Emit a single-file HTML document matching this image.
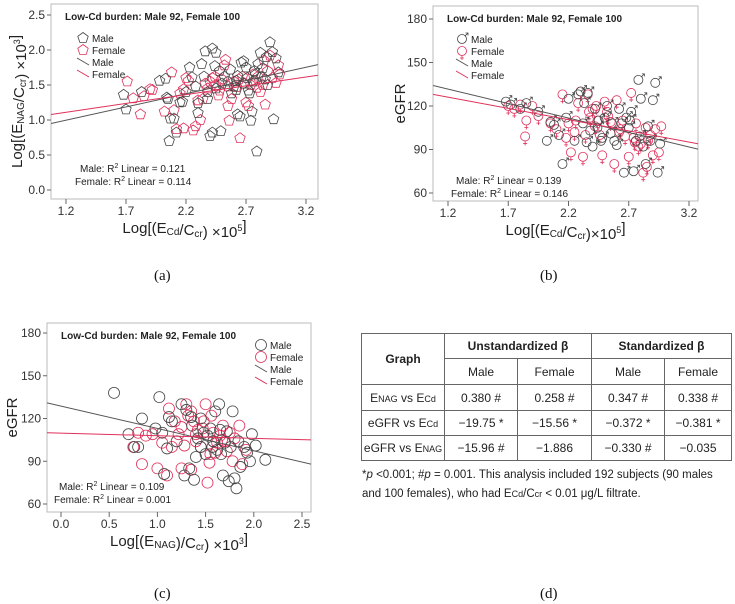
<!DOCTYPE html>
<html><head><meta charset="utf-8">
<style>
body{margin:0;background:#fff;width:735px;height:604px;overflow:hidden;font-family:"Liberation Sans",sans-serif;}
svg{position:absolute;left:0;top:0}
table{position:absolute;left:361px;top:333px;border-collapse:collapse;font-family:"Liberation Sans",sans-serif;font-size:12px;color:#222}
td,th{border:1px solid #666;text-align:center;padding:0;height:24px}
th{font-weight:bold}
.sub{font-size:9px}
#note{position:absolute;left:362px;top:466px;font-size:11.5px;line-height:19px;color:#222;width:372px}
.cap{position:absolute;font-family:"Liberation Serif",serif;font-size:15px;color:#111}
</style></head><body>
<svg id="fig" width="735" height="604"></svg>
<table>
<tr><th rowspan="2" style="width:82px">Graph</th><th colspan="2" style="height:22px">Unstandardized β</th><th colspan="2">Standardized β</th></tr>
<tr><td style="width:72px;height:25px">Male</td><td style="width:73px">Female</td><td style="width:72px">Male</td><td style="width:66px">Female</td></tr>
<tr style="height:26px"><td>E<span class="sub">NAG</span> vs E<span class="sub">Cd</span></td><td>0.380 #</td><td>0.258 #</td><td>0.347 #</td><td>0.338 #</td></tr>
<tr><td>eGFR vs E<span class="sub">Cd</span></td><td>−19.75 *</td><td>−15.56 *</td><td>−0.372 *</td><td>−0.381 *</td></tr>
<tr><td>eGFR vs E<span class="sub">NAG</span></td><td>−15.96 #</td><td>−1.886</td><td>−0.330 #</td><td>−0.035</td></tr>
</table>
<div id="note">*<i>p</i> &lt;0.001; #<i>p</i> = 0.001. This analysis included 192 subjects (90 males and 100 females), who had E<span class="sub">Cd</span>/C<span class="sub">cr</span> &lt; 0.01 μg/L filtrate.</div>
<div class="cap" style="left:154px;top:268px">(a)</div>
<div class="cap" style="left:540px;top:268px">(b)</div>
<div class="cap" style="left:154px;top:586px">(c)</div>
<div class="cap" style="left:540px;top:586px">(d)</div>
<script>
// Panel a data
const aMaleX=[1.68,1.70,1.83,1.98,2.03,2.04,2.05,2.07,2.10,2.12,2.06,2.15,2.17,2.23,2.25,2.30,2.30,2.33,2.36,2.38,2.40,2.42,2.42,2.45,2.44,2.48,2.49,2.50,2.55,2.58,2.60,2.62,2.63,2.63,2.65,2.66,2.68,2.70,2.72,2.73,2.74,2.75,2.76,2.78,2.79,2.80,2.82,2.84,2.86,2.88,2.90,2.92,2.93,2.95,2.97,2.57,2.35,2.28,2.45,2.52,2.68,2.71,2.77,2.83,2.87,2.62,2.38,2.20];
const aMaleY=[1.36,1.15,1.40,1.56,1.59,1.32,1.30,1.02,1.02,0.82,0.70,1.25,1.26,1.75,1.61,1.10,1.24,1.80,1.98,1.40,0.77,0.82,2.02,1.96,1.77,1.70,0.84,1.52,1.55,1.38,1.48,1.56,1.63,1.08,1.05,1.82,1.84,1.75,1.42,1.38,0.99,1.12,1.55,1.65,0.55,1.80,1.96,1.74,1.58,1.50,2.11,1.97,1.01,1.88,1.68,1.72,1.62,1.48,1.45,1.62,1.52,1.60,1.70,1.62,1.90,1.43,1.30,1.40];
const aFemX=[1.71,1.76,1.82,1.85,1.90,1.92,2.02,2.08,2.10,2.12,2.18,2.18,2.20,2.22,2.26,2.28,2.32,2.34,2.38,2.40,2.42,2.45,2.47,2.50,2.52,2.53,2.55,2.56,2.58,2.60,2.62,2.65,2.67,2.70,2.72,2.74,2.76,2.78,2.80,2.82,2.84,2.86,2.88,2.90,2.92,2.95,2.97,2.98,2.44,2.36,2.48,2.64,2.69,2.79,2.85,2.30,2.15,2.55];
const aFemY=[1.55,1.31,1.08,1.34,1.44,1.43,1.12,1.68,1.14,0.87,0.88,1.44,1.60,1.56,0.85,0.91,1.00,1.30,1.45,1.55,1.60,1.50,1.35,1.58,1.78,1.86,1.20,0.99,1.30,1.55,1.47,0.74,1.62,1.25,1.20,1.50,1.65,1.55,1.62,1.40,1.50,1.22,1.70,1.92,1.60,1.53,1.78,1.65,1.62,1.52,1.42,1.58,1.52,1.46,1.85,1.28,1.38,1.48];
const aXTicks=[1.2,1.7,2.2,2.7,3.2];
const aYTicks=[0.0,0.5,1.0,1.5,2.0,2.5];
const aFit={maleB0:0.544,maleB1:0.378,femB0:0.808,femB1:0.252};
// Panel b data
const bMaleX=[1.68,1.72,1.80,1.85,1.95,2.02,2.05,2.08,2.12,2.15,2.18,2.20,2.25,2.28,2.30,2.32,2.35,2.38,2.40,2.42,2.45,2.47,2.50,2.52,2.55,2.58,2.60,2.62,2.64,2.66,2.68,2.70,2.72,2.74,2.76,2.78,2.80,2.82,2.84,2.86,2.88,2.90,2.92,2.94,2.96,2.36,2.44,2.56,2.71,2.79,2.33,2.48];
const bMaleY=[123,121,118,122,116,96,109,107,100,80,112,125,96,128,130,108,95,103,92,118,110,96,112,120,101,96,93,118,108,74,112,105,116,75,96,138,125,92,80,106,96,124,136,74,94,129,105,108,110,99,122,98];
const bFemX=[1.70,1.75,1.80,1.84,1.85,1.90,1.95,2.05,2.10,2.15,2.18,2.20,2.22,2.25,2.28,2.30,2.32,2.34,2.36,2.38,2.40,2.42,2.44,2.46,2.48,2.50,2.52,2.55,2.58,2.60,2.62,2.65,2.67,2.70,2.72,2.74,2.76,2.78,2.80,2.82,2.84,2.86,2.88,2.90,2.92,2.95,2.97,2.43,2.53,2.63,2.75,2.85,2.26,2.37];
const bFemY=[120,118,121,99,110,120,113,108,104,128,98,108,88,102,122,130,85,100,128,112,118,106,110,100,86,123,116,109,80,124,102,110,99,85,129,98,108,92,94,74,105,96,100,86,104,88,106,120,113,104,95,78,110,116];
const bXTicks=[1.2,1.7,2.2,2.7,3.2];
const bYTicks=[60,90,120,150,180];
const bFit={maleB0:155.7,maleB1:-20.0,femB0:144.7,femB1:-15.5};
// Panel c data
const cMaleX=[0.55,0.70,0.76,0.80,0.84,0.98,1.02,1.05,1.07,1.10,1.12,1.15,1.20,1.25,1.28,1.30,1.33,1.35,1.38,1.40,1.42,1.45,1.48,1.50,1.52,1.55,1.57,1.60,1.62,1.64,1.66,1.68,1.70,1.72,1.74,1.76,1.78,1.80,1.82,1.84,1.86,1.90,1.93,1.96,1.98,2.02,2.12,1.58,1.65,1.36,1.45];
const cMaleY=[138,109,100,100,120,113,135,110,81,99,121,118,104,130,80,126,85,121,77,93,106,120,110,95,108,113,100,125,98,130,95,80,103,111,76,100,125,78,71,104,86,100,96,90,109,101,91,104,112,115,100];
const cFemX=[0.75,0.80,0.84,0.88,0.95,1.00,1.05,1.10,1.12,1.15,1.18,1.22,1.25,1.28,1.30,1.32,1.35,1.38,1.40,1.42,1.45,1.48,1.50,1.52,1.54,1.56,1.58,1.60,1.62,1.65,1.68,1.70,1.72,1.75,1.78,1.80,1.85,1.88,1.92,1.25,1.40,1.55,1.67,1.35,1.47,1.58];
const cFemY=[100,110,88,108,109,85,103,80,127,100,118,109,85,101,130,122,84,118,104,112,100,118,130,75,89,122,110,96,103,108,115,104,97,110,90,106,115,88,98,114,109,95,105,125,113,104];
const cXTicks=[0.0,0.5,1.0,1.5,2.0,2.5];
const cYTicks=[60,90,120,150,180];
const cFit={maleB0:128.7,maleB1:-15.7,femB0:109.7,femB1:-1.8};

const NS='http://www.w3.org/2000/svg';
const svg=document.getElementById('fig');
function mk(tag,attrs,parent){const e=document.createElementNS(NS,tag);for(const k in attrs)e.setAttribute(k,attrs[k]);(parent||svg).appendChild(e);return e;}
function txt(x,y,s,size,parent,extra){const t=mk('text',Object.assign({x:x,y:y,'font-size':size,fill:'#222','font-family':'Liberation Sans, sans-serif'},extra||{}),parent);t.innerHTML=s;return t;}
const MC='#444',FC='#e0305a';
function marker(g,kind,cx,cy,col){
  let e;
  if(kind==='pent'){let p=[];for(let i=0;i<5;i++){const a=-Math.PI/2+i*2*Math.PI/5;p.push((cx+5.5*Math.cos(a)).toFixed(1)+','+(cy+5.5*Math.sin(a)).toFixed(1));}
    e=mk('polygon',{points:p.join(' '),fill:'none',stroke:col,'stroke-width':0.8},g);}
  else if(kind==='male'){e=mk('g',{},g);mk('circle',{cx:cx,cy:cy,r:4.5,fill:'none',stroke:col,'stroke-width':0.8},e);mk('path',{d:`M${cx+3.2} ${cy-3.2}L${cx+6} ${cy-6}M${cx+3.5} ${cy-6}H${cx+6}V${cy-3.5}`,fill:'none',stroke:col,'stroke-width':0.8},e);}
  else if(kind==='female'){e=mk('g',{},g);mk('circle',{cx:cx,cy:cy,r:4.5,fill:'none',stroke:col,'stroke-width':0.8},e);mk('path',{d:`M${cx} ${cy+4.5}V${cy+9}M${cx-2} ${cy+7}H${cx+2}`,fill:'none',stroke:col,'stroke-width':0.8},e);}
  else {e=mk('circle',{cx:cx,cy:cy,r:5.5,fill:'none',stroke:col,'stroke-width':0.8},g);}
  return e;
}
function panel(p){
  const g=mk('g',{});
  
  
  const sx=v=>p.x0+(v-p.xv0)*p.kx, sy=v=>p.y0-(v-p.yv0)*p.ky;
  const box=mk('rect',{x:p.L,y:p.T,width:p.R-p.L,height:p.B-p.T,fill:'#fff',stroke:'#bbb','stroke-width':1},g);
  
  
  p.xt.forEach(v=>{const x=sx(v);mk('line',{x1:x,x2:x,y1:p.B,y2:p.B+5,stroke:'#666'},g);const t=txt(x,p.B+16,v.toFixed(1),12,g,{'text-anchor':'middle',fill:'#333'});
    
    });
  p.yt.forEach(v=>{const y=sy(v);mk('line',{x1:p.L-4,x2:p.L,y1:y,y2:y,stroke:'#666'},g);const t=txt(p.L-6,y+4,p.ydec?v.toFixed(1):String(v),12,g,{'text-anchor':'end',fill:'#333'});
    
    });
  const clip=mk('clipPath',{id:p.name+'-clip'},g);mk('rect',{x:p.L,y:p.T,width:p.R-p.L,height:p.B-p.T},clip);
  const pg=mk('g',{'clip-path':`url(#${p.name}-clip)`},g);
  p.fx.forEach((xv,i)=>{const m=marker(pg,p.fk,sx(xv),sy(p.fy[i]),FC);
    
    });
  p.mx.forEach((xv,i)=>{const m=marker(pg,p.mk,sx(xv),sy(p.my[i]),MC);
    
    });
  const xa=p.xv0+(p.L-p.x0)/p.kx, xb=p.xv0+(p.R-p.x0)/p.kx;
  const ml=mk('line',{x1:p.L,x2:p.R,y1:sy(p.fit.maleB0+p.fit.maleB1*xa),y2:sy(p.fit.maleB0+p.fit.maleB1*xb),stroke:'#555','stroke-width':1},pg);
  
  
  const fl=mk('line',{x1:p.L,x2:p.R,y1:sy(p.fit.femB0+p.fit.femB1*xa),y2:sy(p.fit.femB0+p.fit.femB1*xb),stroke:FC,'stroke-width':1},pg);
  
  
  const ti=txt(p.L+14,p.T+16,'Low-Cd burden: Male 92, Female 100',10,g,{'font-weight':'bold'});
  
  
  const lg=mk('g',{},g);
  
  
  const lx=p.lx, ly=p.ly;
  marker(lg,p.mk,lx,ly,MC); txt(lx+9,ly+4,'Male',10,lg);
  marker(lg,p.fk,lx,ly+12,FC); txt(lx+9,ly+16,'Female',10,lg);
  mk('line',{x1:lx-6,y1:ly+20,x2:lx+6,y2:ly+27,stroke:'#555'},lg); txt(lx+9,ly+28,'Male',10,lg);
  mk('line',{x1:lx-6,y1:ly+32,x2:lx+6,y2:ly+39,stroke:FC},lg); txt(lx+9,ly+40,'Female',10,lg);
  const r1=txt(p.rx+5,p.ry,'Male: R<tspan font-size="7" dy="-4">2</tspan><tspan dy="4"> Linear = '+p.r2[0]+'</tspan>',10,g);
  
  
  const r2=txt(p.rx,p.ry+13,'Female: R<tspan font-size="7" dy="-4">2</tspan><tspan dy="4"> Linear = '+p.r2[1]+'</tspan>',10,g);
  
  
  const xl=txt((p.L+p.R)/2,p.B+34,p.xlab,15,g,{'text-anchor':'middle'});
  
  
  const yl=txt(0,0,p.ylab,15,g,{'text-anchor':'middle',transform:`translate(${p.ylx},${(p.T+p.B)/2}) rotate(-90)`});
  
  
}
const sub=s=>`<tspan font-size="10" dy="2">${s}</tspan><tspan dy="-2"></tspan>`;
const sup=s=>`<tspan font-size="9" dy="-6">${s}</tspan><tspan dy="6"></tspan>`;
panel({name:'panel-a',L:51,R:318,T:4,B:199,x0:66,xv0:1.2,kx:120,y0:190,yv0:0,ky:70,xt:aXTicks,yt:aYTicks,ydec:true,
  mx:aMaleX,my:aMaleY,fx:aFemX,fy:aFemY,mk:'pent',fk:'pent',fit:aFit,lx:83,ly:38,rx:75,ry:172,r2:['0.121','0.114'],
  xlab:'Log[(E'+sub('Cd')+'/C'+sub('cr')+') ×10'+sup('5')+']',ylab:'Log[(E'+sub('NAG')+'/C'+sub('cr')+') ×10'+sup('3')+']',ylx:22});
panel({name:'panel-b',L:433,R:698,T:6,B:201,x0:448,xv0:1.2,kx:120.5,y0:193,yv0:60,ky:1.45,xt:bXTicks,yt:bYTicks,ydec:false,
  mx:bMaleX,my:bMaleY,fx:bFemX,fy:bFemY,mk:'male',fk:'female',fit:bFit,lx:462,ly:39,rx:451,ry:184,r2:['0.139','0.146'],
  xlab:'Log[(E'+sub('Cd')+'/C'+sub('cr')+')×10'+sup('5')+']',ylab:'eGFR',ylx:405});
panel({name:'panel-c',L:47,R:311,T:323,B:512,x0:61,xv0:0,kx:96.4,y0:504,yv0:60,ky:1.425,xt:cXTicks,yt:cYTicks,ydec:false,
  mx:cMaleX,my:cMaleY,fx:cFemX,fy:cFemY,mk:'circ',fk:'circ',fit:cFit,lx:261,ly:345,rx:54,ry:490,r2:['0.109','0.001'],
  xlab:'Log[(E'+sub('NAG')+')/C'+sub('cr')+') ×10'+sup('3')+']',ylab:'eGFR',ylx:17});
</script>
</body></html>
